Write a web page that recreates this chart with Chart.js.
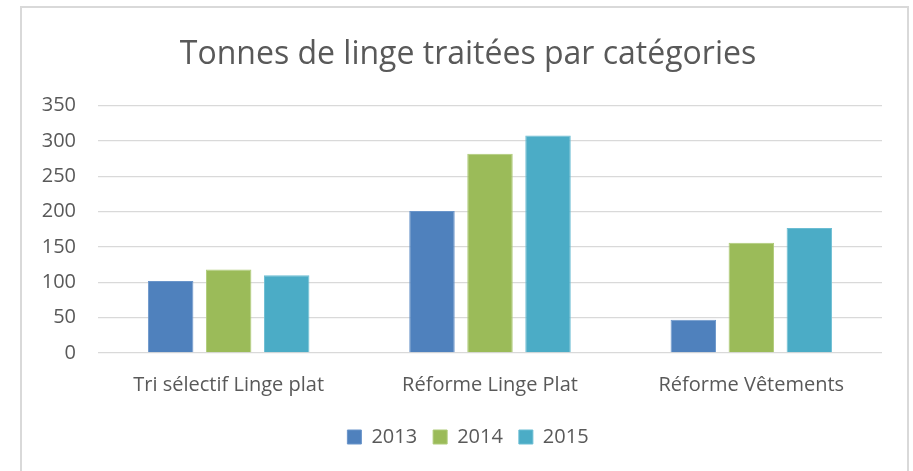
<!DOCTYPE html>
<html>
<head>
<meta charset="utf-8">
<script src="https://cdn.jsdelivr.net/npm/chart.js@4"></script>
<style>
  html, body { margin: 0; padding: 0; background: #fff; }
  #wrap { position: relative; width: 913px; height: 471px; overflow: hidden; }
  #frame { position: absolute; left: 20px; top: 6px; width: 889px; height: 480px; border: 2px solid #D9D9D9; box-sizing: border-box; }
  #c { position: absolute; left: 0; top: 0; }
</style>
</head>
<body>
<div id="wrap">
  <div id="frame"></div>
  <canvas id="c" width="913" height="471"></canvas>
</div>
<script>
const titleText = 'Tonnes de linge traitées par catégories';
const categories = ['Tri sélectif Linge plat', 'Réforme Linge Plat', 'Réforme Vêtements'];
const seriesNames = ['2013', '2014', '2015'];
const values2013 = [102, 201, 47];
const values2014 = [118, 282, 156];
const values2015 = [110, 308, 177];
const yMin = 0, yMax = 350, yStep = 50;

const colors = ['#4F81BD', '#9BBB59', '#4BACC6'];
const borders = ['#6A95CA', '#AECB78', '#6BBDD3'];
const textColor = '#595959';

Chart.defaults.font.family = "'Open Sans', 'Noto Sans', sans-serif";
Chart.defaults.color = textColor;

const seriesValues = [values2013, values2014, values2015];
const datasets = seriesNames.map((name, i) => ({
  label: name,
  data: seriesValues[i],
  backgroundColor: colors[i],
  borderColor: borders[i],
  borderWidth: 1,
  categoryPercentage: 0.666,
  barPercentage: 0.784
}));

// shift the full-width title/legend boxes so they are centred on the chart frame
const centreBoxes = {
  id: 'centreBoxes',
  afterLayout(chart) {
    const shift = 54;
    if (chart.titleBlock) chart.titleBlock.left += shift;
    if (chart.legend) chart.legend.left += shift;
  }
};

new Chart(document.getElementById('c'), {
  type: 'bar',
  data: { labels: categories, datasets },
  plugins: [centreBoxes],
  options: {
    responsive: false,
    animation: false,
    layout: { padding: { left: 0, right: 31, top: 0, bottom: 14 } },
    plugins: {
      title: {
        display: true,
        text: titleText,
        color: textColor,
        font: { size: 32, weight: 'normal', lineHeight: 1.2 },
        padding: { top: 35.5, bottom: 31.8 }
      },
      legend: {
        position: 'bottom',
        labels: {
          boxWidth: 14,
          boxHeight: 14,
          padding: 16,
          color: textColor,
          font: { size: 20 }
        }
      },
      tooltip: { enabled: false }
    },
    scales: {
      x: {
        grid: { display: false },
        border: { display: false },
        ticks: { padding: 12, color: textColor, font: { size: 20 }, maxRotation: 0 },
        afterFit: (s) => { s.height = 58; }
      },
      y: {
        min: yMin,
        max: yMax,
        grid: { color: '#D9D9D9', lineWidth: 1.3, drawTicks: false },
        border: { display: false },
        ticks: { stepSize: yStep, padding: 22, color: textColor, font: { size: 20 } },
        afterFit: (s) => { s.width = 98; }
      }
    }
  }
});
</script>
</body>
</html>
